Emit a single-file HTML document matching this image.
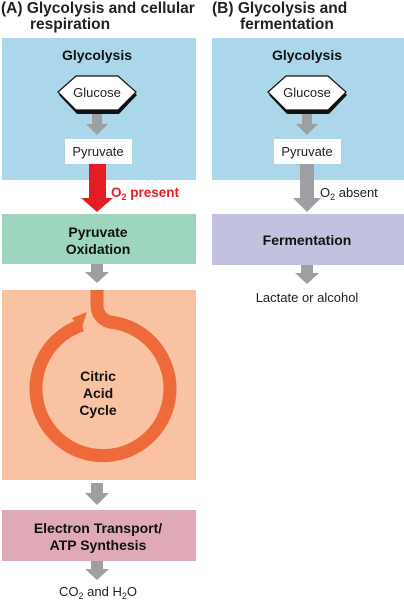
<!DOCTYPE html>
<html><head><meta charset="utf-8"><style>
body{margin:0;background:#fff}
svg{display:block}
text{font-family:"Liberation Sans",Arial,sans-serif}
</style></head><body>
<svg width="404" height="600" viewBox="0 0 404 600">
<text x="1" y="13" font-size="15.5" font-weight="bold" fill="#222">(A)  Glycolysis and cellular</text>
<text x="30" y="29" font-size="15.5" font-weight="bold" fill="#222">respiration</text>
<text x="212" y="13" font-size="15.5" font-weight="bold" fill="#222">(B)  Glycolysis and</text>
<text x="240" y="29" font-size="15.5" font-weight="bold" fill="#222">fermentation</text>

<rect x="2" y="38" width="194" height="142" fill="#acd7ea"/>
<text x="97" y="60" font-size="14" font-weight="bold" text-anchor="middle" fill="#111">Glycolysis</text>
<polygon points="59,95 77,79 119,79 137,95 119,114 77,114" fill="#111"/>
<polygon points="58,92 76,76 118,76 136,92 118,110 76,110" fill="#fff" stroke="#111" stroke-width="1.2"/>
<text x="97" y="97" font-size="13" text-anchor="middle" fill="#222">Glucose</text>
<polygon points="92,114 102,114 102,124 108,124 97,135 86,124 92,124" fill="#9d9fa2"/>
<rect x="65" y="139" width="67" height="25" fill="#fff"/>
<text x="98" y="156" font-size="13" text-anchor="middle" fill="#222">Pyruvate</text>
<polygon points="89,164 106,164 106,198 113,198 97,212 81,198 89,198" fill="#e31d23"/>
<text x="111" y="197" font-size="13.5" font-weight="bold" fill="#e31d23">O<tspan font-size="9" dy="3">2</tspan><tspan dy="-3"> present</tspan></text>

<rect x="2" y="214" width="194" height="50" fill="#9ed5be"/>
<text x="98" y="237" font-size="14" font-weight="bold" text-anchor="middle" fill="#111">Pyruvate</text>
<text x="98" y="254" font-size="14" font-weight="bold" text-anchor="middle" fill="#111">Oxidation</text>
<polygon points="91,264 103,264 103,272 109,272 97,283 85,272 91,272" fill="#9d9fa2"/>

<rect x="2" y="290" width="194" height="190" fill="#f9c3a3"/>
<path d="M97,290 L97,305 Q97,318 110,322 A67,67 0 1 1 82,325" fill="none" stroke="#ef6a3a" stroke-width="13"/>
<polygon points="72,318 87,312 81,330" fill="#ef6a3a"/>
<text x="98" y="381" font-size="14" font-weight="bold" text-anchor="middle" fill="#111">Citric</text>
<text x="98" y="398" font-size="14" font-weight="bold" text-anchor="middle" fill="#111">Acid</text>
<text x="98" y="415" font-size="14" font-weight="bold" text-anchor="middle" fill="#111">Cycle</text>
<polygon points="91,483 103,483 103,493 109,493 97,505 85,493 91,493" fill="#9d9fa2"/>

<rect x="2" y="510" width="194" height="51" fill="#dfa9b7"/>
<text x="98" y="533" font-size="14" font-weight="bold" text-anchor="middle" fill="#111">Electron Transport/</text>
<text x="98" y="550" font-size="14" font-weight="bold" text-anchor="middle" fill="#111">ATP Synthesis</text>
<polygon points="91,561 103,561 103,569 109,569 97,580 85,569 91,569" fill="#9d9fa2"/>
<text x="98" y="596" font-size="13" text-anchor="middle" fill="#222">CO<tspan font-size="9" dy="3">2</tspan><tspan dy="-3"> and H</tspan><tspan font-size="9" dy="3">2</tspan><tspan dy="-3">O</tspan></text>

<rect x="212" y="38" width="192" height="142" fill="#acd7ea"/>
<text x="307" y="60" font-size="14" font-weight="bold" text-anchor="middle" fill="#111">Glycolysis</text>
<polygon points="269,95 287,79 329,79 347,95 329,114 287,114" fill="#111"/>
<polygon points="268,92 286,76 328,76 346,92 328,110 286,110" fill="#fff" stroke="#111" stroke-width="1.2"/>
<text x="307" y="97" font-size="13" text-anchor="middle" fill="#222">Glucose</text>
<polygon points="302,114 312,114 312,124 318,124 307,135 296,124 302,124" fill="#9d9fa2"/>
<rect x="274" y="139" width="67" height="25" fill="#fff"/>
<text x="307" y="156" font-size="13" text-anchor="middle" fill="#222">Pyruvate</text>
<polygon points="300,164 314,164 314,198 321,198 307,212 293,198 300,198" fill="#9d9fa2"/>
<text x="320" y="197" font-size="13" fill="#222">O<tspan font-size="9" dy="3">2</tspan><tspan dy="-3"> absent</tspan></text>

<rect x="212" y="214" width="192" height="51" fill="#c2c1e0"/>
<text x="307" y="245" font-size="14" font-weight="bold" text-anchor="middle" fill="#111">Fermentation</text>
<polygon points="301,265 313,265 313,273 319,273 307,284 295,273 301,273" fill="#9d9fa2"/>
<text x="307" y="302" font-size="13" text-anchor="middle" fill="#222">Lactate or alcohol</text>
</svg>
</body></html>
